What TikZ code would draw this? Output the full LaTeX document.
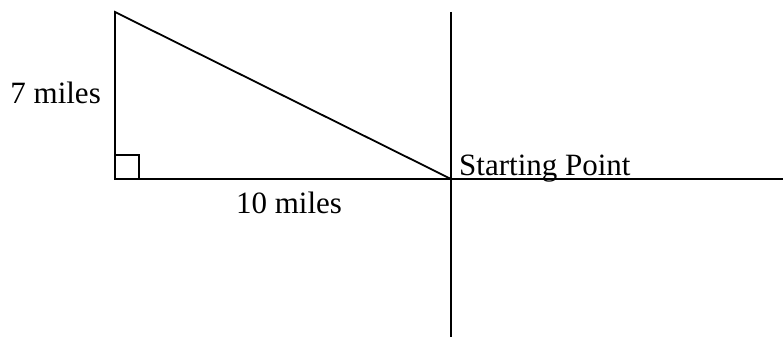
\documentclass[tikz,border=0pt]{standalone}
\usepackage{fontspec}
\setmainfont{Liberation Serif}
\begin{document}
\begin{tikzpicture}[x=1pt,y=-1pt,
  ln/.style={line width=1.8pt,black},
  lbl/.style={inner sep=0pt,font=\fontsize{31}{37}\selectfont}]
\useasboundingbox (0,0) rectangle (783,337);
\coordinate (top) at (115,12);
\coordinate (corner) at (115,179);
\coordinate (start) at (451,179);
\coordinate (vtop) at (451,12);
\coordinate (vbot) at (451,337);
\coordinate (hend) at (783,179);
\coordinate (sqa) at (115,155);
\coordinate (sqb) at (139,155);
\coordinate (sqc) at (139,179);
\draw[ln,line join=miter] (start) -- (top) -- (corner) -- (start);
\draw[ln] (start) -- (hend);
\draw[ln] (vtop) -- (vbot);
\draw[ln] (sqa) -- (sqb) -- (sqc);
\node[lbl,anchor=base west] (sp) at (459,175) {Starting Point};
\node[lbl,anchor=base] (ten) at (289,213) {10 miles};
\node[lbl,anchor=base east] (seven) at (101,103) {7 miles};
\end{tikzpicture}
\end{document}
